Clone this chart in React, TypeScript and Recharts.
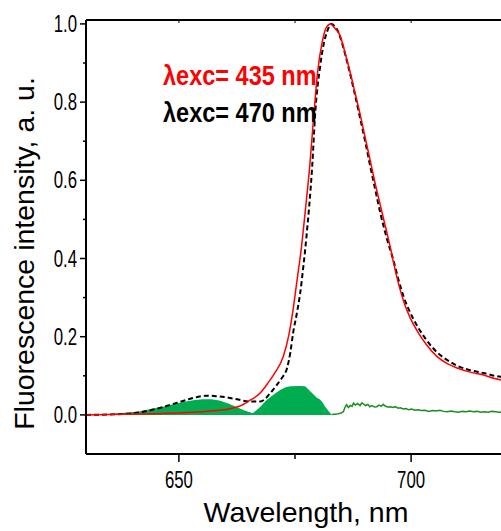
import React from 'react';
import { ComposedChart, Line, Area, XAxis, YAxis } from 'recharts';

// λexc = 435 nm (red)
const redX = [630, 635, 640, 645, 650, 655, 658, 661, 663, 665, 667.5, 669.2, 670.7, 672.5, 673.6, 674.6, 675.5, 676.3, 677.2, 678.2, 679.0, 679.9, 680.8, 681.7, 682.6, 683.5, 684.7, 685.8, 686.9, 688, 689, 690.1, 691.2, 692.3, 693.4, 694.5, 695.5, 696.2, 697.3, 698.4, 699.8, 701.3, 703.4, 705.6, 707.8, 709.9, 712.5, 715.6, 718, 720];
const redY = [0, 0.001, 0.002, 0.003, 0.005, 0.008, 0.011, 0.016, 0.022, 0.035, 0.056, 0.082, 0.108, 0.15, 0.2, 0.27, 0.35, 0.42, 0.52, 0.64, 0.76, 0.88, 0.95, 0.99, 1.0, 0.99, 0.97, 0.925, 0.875, 0.82, 0.77, 0.71, 0.65, 0.59, 0.535, 0.48, 0.43, 0.39, 0.335, 0.29, 0.248, 0.215, 0.178, 0.149, 0.131, 0.12, 0.11, 0.102, 0.093, 0.088];

// λexc = 470 nm (black dashed)
const blackX = [630, 635, 640, 645, 648, 651.5, 654, 655.9, 658, 660.2, 662.5, 665.1, 667.5, 669.7, 671.1, 672.2, 673.3, 674.0, 674.6, 675.4, 676.1, 676.8, 677.5, 678.7, 679.4, 680.4, 681.2, 681.9, 682.8, 683.5, 684.3, 685.4, 686.5, 687.7, 689, 690.1, 691.2, 692.3, 693.4, 694.8, 696.2, 697.3, 698.4, 699.8, 701.3, 703.4, 705.6, 707.8, 709.9, 712.5, 715.6, 718, 720];
const blackY = [0, 0.001, 0.004, 0.015, 0.025, 0.038, 0.046, 0.049, 0.048, 0.045, 0.04, 0.034, 0.034, 0.056, 0.077, 0.095, 0.12, 0.16, 0.21, 0.26, 0.31, 0.38, 0.46, 0.636, 0.78, 0.89, 0.95, 0.98, 1.0, 0.995, 0.98, 0.94, 0.89, 0.83, 0.76, 0.7, 0.636, 0.575, 0.515, 0.45, 0.395, 0.345, 0.302, 0.262, 0.228, 0.19, 0.16, 0.14, 0.126, 0.115, 0.107, 0.1, 0.097];

// difference, filled part
const fillX = [630, 633, 637, 641.4, 644, 646.5, 649, 651.5, 653.5, 655.1, 657, 658.7, 660.5, 662.3, 664, 665.9, 667.5, 668.9, 670.5, 671.8, 673, 674, 676, 677.2, 678.5, 679.7, 680.3, 680.8, 681.5, 682.6, 683];
const fillY = [0, 0.001, 0.004, 0.009, 0.015, 0.021, 0.028, 0.034, 0.038, 0.04, 0.04, 0.037, 0.03, 0.021, 0.012, 0.004, 0.02, 0.038, 0.053, 0.064, 0.071, 0.073, 0.074, 0.073, 0.058, 0.044, 0.04, 0.034, 0.021, 0.004, 0.001];

// difference, line part
const diffX = [683, 684, 684.8, 685.4, 685.8, 686.1, 686.5, 686.9, 687.3, 687.6, 688, 688.5, 689, 689.4, 689.7, 690.2, 690.7, 691.1, 691.6, 692.1, 692.6, 693.1, 693.6, 694, 694.5, 695, 695.6, 696.1, 696.6, 697.2, 697.7, 698.3, 698.9, 699.5, 700.1, 700.8, 701.5, 702.2, 703, 703.8, 704.6, 705.4, 706.2, 707, 707.8, 708.6, 709.4, 710.2, 711, 711.8, 712.6, 713.4, 714.2, 715, 715.8, 716.6, 717.4, 718.2, 719, 720];
const diffY = [0.001, 0.002, 0.004, 0.008, 0.02, 0.026, 0.019, 0.024, 0.022, 0.03, 0.025, 0.029, 0.024, 0.031, 0.028, 0.024, 0.027, 0.021, 0.024, 0.02, 0.021, 0.025, 0.022, 0.027, 0.022, 0.02, 0.021, 0.019, 0.021, 0.017, 0.018, 0.015, 0.016, 0.013, 0.015, 0.012, 0.013, 0.011, 0.012, 0.009, 0.011, 0.01, 0.012, 0.009, 0.008, 0.01, 0.008, 0.007, 0.009, 0.008, 0.01, 0.008, 0.009, 0.007, 0.008, 0.007, 0.009, 0.008, 0.007, 0.008];

const xTicks = [650, 675, 700];
const yTicks = [0, 0.1, 0.2, 0.3, 0.4, 0.5, 0.6, 0.7, 0.8, 0.9, 1.0];

const toPoints = (xs: number[], ys: number[]) => xs.map((x, i) => ({ x, y: ys[i] }));

const tickFont = 'Liberation Sans, Arial, sans-serif';

const XTick = ({ x, y, payload }: any) => {
    const major = payload.value % 50 === 0;
    return (
        <g>
            <line x1={x} y1={y} x2={x} y2={y + (major ? 8 : 5)} stroke="#000" strokeWidth={1.5} />
            {major && (
                <text transform={`translate(${x},${y + 34}) scale(0.7,1)`} textAnchor="middle" fontSize={24} fontFamily={tickFont} fill="#000">
                    {payload.value}
                </text>
            )}
        </g>
    );
};

const TopTick = ({ x, y }: any) => (
    <line x1={x} y1={y} x2={x} y2={y + 3} stroke="#000" strokeWidth={1} />
);

const YTick = ({ x, y, payload }: any) => {
    const major = Math.round(payload.value * 10) % 2 === 0;
    return (
        <g>
            <line x1={x - (major ? 6 : 3)} y1={y} x2={x} y2={y} stroke="#000" strokeWidth={1.5} />
            {major && (
                <text transform={`translate(${x - 9},${y + 8}) scale(0.7,1)`} textAnchor="end" fontSize={24} fontFamily={tickFont} fill="#000">
                    {payload.value.toFixed(1)}
                </text>
            )}
        </g>
    );
};

export default function App() {
    const axisLine = { stroke: '#000', strokeWidth: 2 };
    return (
        <div style={{ position: 'fixed', left: 0, top: 0, width: 501, height: 531, overflow: 'hidden', background: '#fff' }}>
            <ComposedChart width={510} height={531} margin={{ top: 19, right: 6, bottom: 0, left: 0 }}>
                <XAxis type="number" dataKey="x" domain={[630, 720]} ticks={xTicks} allowDataOverflow
                    height={77} tickSize={0} tickMargin={0} tickLine={false} axisLine={axisLine} tick={<XTick />} />
                <XAxis xAxisId="top" orientation="top" type="number" dataKey="x" domain={[630, 720]} ticks={xTicks} allowDataOverflow
                    height={1} tickSize={0} tickMargin={0} tickLine={false} axisLine={axisLine} tick={<TopTick />} />
                <YAxis type="number" dataKey="y" domain={[-0.1, 1.01]} ticks={yTicks} allowDataOverflow
                    width={86} tickSize={0} tickMargin={0} tickLine={false} axisLine={axisLine} tick={<YTick />} />
                <Area data={toPoints(fillX, fillY)} dataKey="y" type="linear" baseValue={0}
                    stroke="none" fill="#00ac4f" fillOpacity={1} isAnimationActive={false} />
                <Line data={toPoints(diffX, diffY)} dataKey="y" type="linear" stroke="#1e8c1e" strokeWidth={1.5}
                    dot={false} isAnimationActive={false} />
                <Line data={toPoints(blackX, blackY)} dataKey="y" type="monotone" stroke="#000" strokeWidth={2}
                    strokeDasharray="5 3" dot={false} isAnimationActive={false} />
                <Line data={toPoints(redX, redY)} dataKey="y" type="monotone" stroke="#ff0000" strokeWidth={1.5}
                    dot={false} isAnimationActive={false} />
            </ComposedChart>
            <svg width={501} height={531} style={{ position: 'absolute', left: 0, top: 0, pointerEvents: 'none' }}>
                <text transform="translate(163,85) scale(0.84,1)" fontSize={28} fontWeight="bold" fontFamily={tickFont} fill="#ff0000">
                    λexc= 435 nm
                </text>
                <text transform="translate(163,121.5) scale(0.84,1)" fontSize={28} fontWeight="bold" fontFamily={tickFont} fill="#000">
                    λexc= 470 nm
                </text>
                <text x={306} y={521.5} textAnchor="middle" fontSize={28.5} fontFamily={tickFont} fill="#000">
                    Wavelength, nm
                </text>
                <text transform="translate(33.5,253.5) rotate(-90)" textAnchor="middle" fontSize={28.5} fontFamily={tickFont} fill="#000">
                    Fluorescence intensity, a. u.
                </text>
            </svg>
        </div>
    );
}
